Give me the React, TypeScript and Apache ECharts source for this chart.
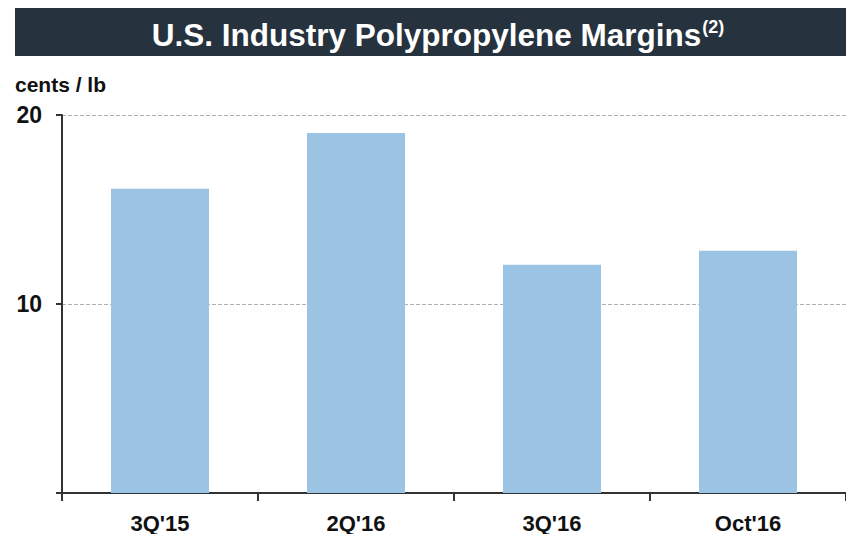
import React, { useEffect, useRef } from "react";
import * as echarts from "echarts";

const categories = ["3Q'15", "2Q'16", "3Q'16", "Oct'16"];
const margins = [16.1, 19.05, 12.08, 12.82];
const titleText = "U.S. Industry Polypropylene Margins";
const titleNote = "(2)";
const unitLabel = "cents / lb";

export default function App() {
  const ref = useRef<HTMLDivElement>(null);
  useEffect(() => {
    document.body.style.margin = "0";
    const chart = echarts.init(ref.current!, null, { renderer: "svg" });
    const font = "'Liberation Sans', Arial, sans-serif";
    chart.setOption({
      animation: false,
      backgroundColor: "#ffffff",
      graphic: [
        {
          type: "rect",
          left: 15,
          top: 8,
          shape: { width: 831, height: 48 },
          style: { fill: "#26323d" },
          z: 0,
        },
        {
          type: "text",
          left: 15,
          top: 74,
          style: {
            text: unitLabel,
            fill: "#111111",
            font: `bold 21px ${font}`,
          },
        },
      ],
      title: {
        text: `{m|${titleText}}{s|${titleNote}}`,
        left: 433,
        textAlign: "center",
        top: 13,
        textStyle: {
          rich: {
            m: { fontFamily: font, fontWeight: "bold", fontSize: 31.5, color: "#ffffff", lineHeight: 34 },
            s: { fontFamily: font, fontWeight: "bold", fontSize: 18, color: "#ffffff", verticalAlign: "top", lineHeight: 34, padding: [0, 0, 10, 1] },
          },
        },
        z: 10,
      },
      grid: { left: 62, right: 0, top: 115, bottom: 39, containLabel: false },
      xAxis: {
        type: "category",
        data: categories,
        axisLine: { lineStyle: { color: "#333333", width: 2 } },
        axisTick: { show: true, length: 8, lineStyle: { color: "#333333", width: 2 } },
        axisLabel: {
          color: "#111111",
          fontFamily: font,
          fontWeight: "bold",
          fontSize: 22,
          margin: 19,
        },
      },
      yAxis: {
        type: "value",
        min: 0,
        max: 20,
        interval: 10,
        axisLine: { show: true, lineStyle: { color: "#333333", width: 2 } },
        axisTick: { show: true, length: 6, lineStyle: { color: "#333333", width: 2 } },
        axisLabel: {
          color: "#111111",
          fontFamily: font,
          fontWeight: "bold",
          fontSize: 23,
          margin: 20,
          formatter: (v: number) => (v === 0 ? "" : String(v)),
        },
        splitLine: { show: true, lineStyle: { color: "#b0b0b0", type: "dashed", width: 1 } },
      },
      series: [
        {
          type: "bar",
          data: margins,
          barWidth: "50%",
          itemStyle: { color: "#9bc3e3" },
        },
      ],
    });
    return () => chart.dispose();
  }, []);
  return <div ref={ref} style={{ width: 846, height: 534 }} />;
}
